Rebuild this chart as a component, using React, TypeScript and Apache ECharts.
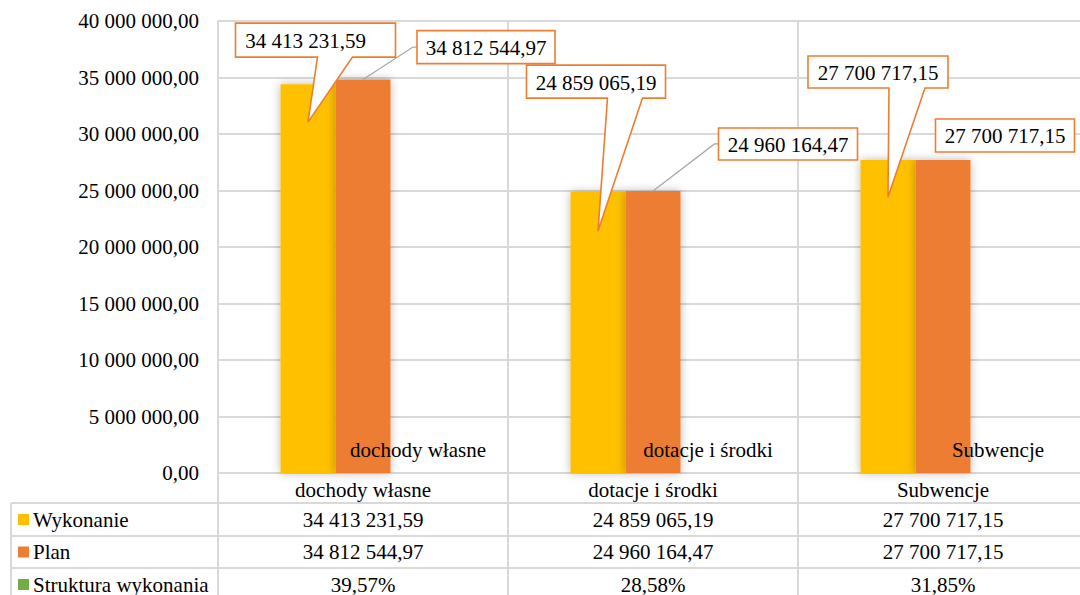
import React, { useEffect, useRef } from "react";
import * as echarts from "echarts";

// ---- data ----
const categories = ["dochody własne", "dotacje i środki", "Subwencje"];
const wykonanie = [34413231.59, 24859065.19, 27700717.15];
const plan = [34812544.97, 24960164.47, 27700717.15];
const struktura = [39.57, 28.58, 31.85]; // percent of total execution
const seriesNames = ["Wykonanie", "Plan", "Struktura wykonania"];
const yTicks = { min: 0, max: 40000000, interval: 5000000 };

// ---- styling / layout ----
const colors = ["#FFC000", "#ED7D31", "#70AD47"];
const FONT = "Liberation Serif";
const FS = 21;
const CHART_W = 1088; // plot runs slightly past the visible right edge
const GRID = { left: 218, top: 21, right: 0, height: 452 };
const BAR_W = 55;
const GRIDLINE = "#D9D9D9";
const TABLE_LEFT = 11;
const TABLE_ROW_LINES = [503, 536, 568];
const TABLE_ROW_CENTERS = [519.5, 552, 584.5];

// callout boxes for "Wykonanie", relative to the top centre of each bar
const bubbleLayout = [
  { dx: -72.5, dy: -61, w: 160, h: 34, b1: 9.5, b2: 44.5, tip: 38, textDx: -10 },
  { dx: -71.5, dy: -127, w: 139, h: 33, b1: 9.5, b2: 44.5, tip: 39, textDx: 0 },
  { dx: -80, dy: -104, w: 140, h: 32, b1: 1, b2: 37, tip: 37, textDx: 0 },
];
// boxed labels for "Plan", relative to the top centre of each bar
const planBoxLayout = [
  { dx: 54, dy: -49, w: 138, h: 33, leader: true },
  { dx: 65.5, dy: -63, w: 139, h: 32, leader: true },
  { dx: -7.5, dy: -41, w: 139, h: 33, leader: false },
];

function fmtNumber(v: number, decimals = 2): string {
  const fixed = v.toFixed(decimals);
  const [intPart, dec] = fixed.split(".");
  const grouped = intPart.replace(/\B(?=(\d{3})+(?!\d))/g, " ");
  return dec ? grouped + "," + dec : grouped;
}
const fmtPercent = (v: number) => fmtNumber(v, 2) + "%";

export default function App() {
  const ref = useRef<HTMLDivElement>(null);

  useEffect(() => {
    if (!ref.current) return;
    const chart = echarts.init(ref.current, undefined, { renderer: "svg" });

    const barShadow = {
      shadowBlur: 10,
      shadowColor: "rgba(0,0,0,0.28)",
    };

    chart.setOption({
      animation: false,
      backgroundColor: "#ffffff",
      textStyle: { fontFamily: FONT },
      grid: { ...GRID, containLabel: false },
      legend: {
        data: seriesNames,
        orient: "vertical",
        left: 18,
        top: 509,
        padding: 0,
        itemWidth: 11,
        itemHeight: 11,
        itemGap: 11.5,
        icon: "rect",
        selectedMode: false,
        textStyle: { fontSize: FS, fontFamily: FONT, color: "#000", lineHeight: 21, padding: [0, 0, 0, -1] },
      },
      xAxis: {
        type: "category",
        data: categories,
        boundaryGap: true,
        axisLine: { show: true, lineStyle: { color: GRIDLINE, width: 2 } },
        axisTick: {
          show: true,
          interval: 0,
          alignWithLabel: false,
          length: 125,
          lineStyle: { color: GRIDLINE, width: 2 },
        },
        splitLine: { show: true, interval: 0, lineStyle: { color: GRIDLINE, width: 2 } },
        axisLabel: {
          interval: 0,
          margin: 6,
          fontSize: FS,
          fontFamily: FONT,
          color: "#000",
        },
      },
      yAxis: {
        type: "value",
        min: yTicks.min,
        max: yTicks.max,
        interval: yTicks.interval,
        axisLine: { show: true, lineStyle: { color: GRIDLINE, width: 2 } },
        axisTick: { show: false },
        splitLine: { show: true, lineStyle: { color: GRIDLINE, width: 2 } },
        axisLabel: {
          margin: 19,
          fontSize: FS,
          fontFamily: FONT,
          color: "#000",
          formatter: (v: number) => fmtNumber(v),
        },
      },
      series: [
        {
          name: seriesNames[0],
          type: "bar",
          data: wykonanie,
          barWidth: BAR_W,
          barGap: "0%",
          itemStyle: { color: colors[0], ...barShadow },
        },
        {
          name: seriesNames[1],
          type: "bar",
          data: plan,
          barWidth: BAR_W,
          barGap: "0%",
          itemStyle: { color: colors[1], ...barShadow },
        },
        {
          name: seriesNames[2],
          type: "bar",
          data: struktura,
          barWidth: BAR_W,
          barGap: "0%",
          itemStyle: { color: colors[2] },
          label: {
            show: true,
            position: "top",
            distance: 12,
            formatter: "{b}",
            fontSize: FS,
            fontFamily: FONT,
            color: "#000",
          },
        },
      ],
    });

    // ---- overlays: callouts, leader lines and the data table ----
    const graphics: any[] = [];
    const textStyle = (text: string) => ({
      text,
      fontSize: FS,
      fontFamily: FONT,
      fill: "#000",
      align: "center",
      verticalAlign: "middle",
    });

    const catCenters = categories.map((_, i) => {
      const p = chart.convertToPixel({ gridIndex: 0 }, [i, 0]) as number[];
      return p[0];
    });

    categories.forEach((_, i) => {
      // Wykonanie: speech-bubble callout pointing into the bar
      {
        const X = catCenters[i] - BAR_W;
        const Y = (chart.convertToPixel({ gridIndex: 0 }, [i, wykonanie[i]]) as number[])[1];
        const L = bubbleLayout[i];
        const bx = X + L.dx;
        const by = Y + L.dy;
        const bottom = by + L.h;
        graphics.push({
          type: "polygon",
          z: 100,
          shape: {
            points: [
              [bx, by],
              [bx + L.w, by],
              [bx + L.w, bottom],
              [X + L.b2, bottom],
              [X, Y + L.tip],
              [X + L.b1, bottom],
              [bx, bottom],
            ],
          },
          style: { fill: "#fff", stroke: colors[1], lineWidth: 1.6 },
        });
        graphics.push({
          type: "text",
          z: 101,
          x: bx + L.w / 2 + L.textDx,
          y: by + L.h / 2 + 1,
          style: textStyle(fmtNumber(wykonanie[i])),
        });
      }
      // Plan: boxed label with an optional leader line
      {
        const X = catCenters[i];
        const Y = (chart.convertToPixel({ gridIndex: 0 }, [i, plan[i]]) as number[])[1];
        const L = planBoxLayout[i];
        const bx = X + L.dx;
        const by = Y + L.dy;
        const midY = by + L.h / 2;
        if (L.leader) {
          graphics.push({
            type: "polyline",
            z: 99,
            shape: { points: [[X, Y], [bx - 4, midY], [bx, midY]] },
            style: { stroke: "#A6A6A6", lineWidth: 1.2, fill: null },
          });
        }
        graphics.push({
          type: "rect",
          z: 100,
          shape: { x: bx, y: by, width: L.w, height: L.h },
          style: { fill: "#fff", stroke: colors[1], lineWidth: 1.6 },
        });
        graphics.push({
          type: "text",
          z: 101,
          x: bx + L.w / 2,
          y: midY + 1,
          style: textStyle(fmtNumber(plan[i])),
        });
      }
    });

    // data table grid
    TABLE_ROW_LINES.forEach((y) => {
      graphics.push({
        type: "line",
        z: 5,
        shape: { x1: TABLE_LEFT, y1: y, x2: CHART_W, y2: y },
        style: { stroke: GRIDLINE, lineWidth: 2 },
      });
    });
    graphics.push({
      type: "line",
      z: 5,
      shape: { x1: TABLE_LEFT, y1: TABLE_ROW_LINES[0], x2: TABLE_LEFT, y2: 595 },
      style: { stroke: GRIDLINE, lineWidth: 2 },
    });

    // data table values
    const rows = [
      wykonanie.map((v) => fmtNumber(v)),
      plan.map((v) => fmtNumber(v)),
      struktura.map((v) => fmtPercent(v)),
    ];
    rows.forEach((row, r) => {
      row.forEach((txt, c) => {
        graphics.push({
          type: "text",
          z: 6,
          x: catCenters[c],
          y: TABLE_ROW_CENTERS[r],
          style: textStyle(txt),
        });
      });
    });

    chart.setOption({ graphic: graphics });

    return () => chart.dispose();
  }, []);

  return (
    <div
      style={{
        position: "absolute",
        left: 0,
        top: 0,
        width: 1080,
        height: 595,
        overflow: "hidden",
        background: "#fff",
      }}
    >
      <div ref={ref} style={{ width: CHART_W, height: 595 }} />
    </div>
  );
}
